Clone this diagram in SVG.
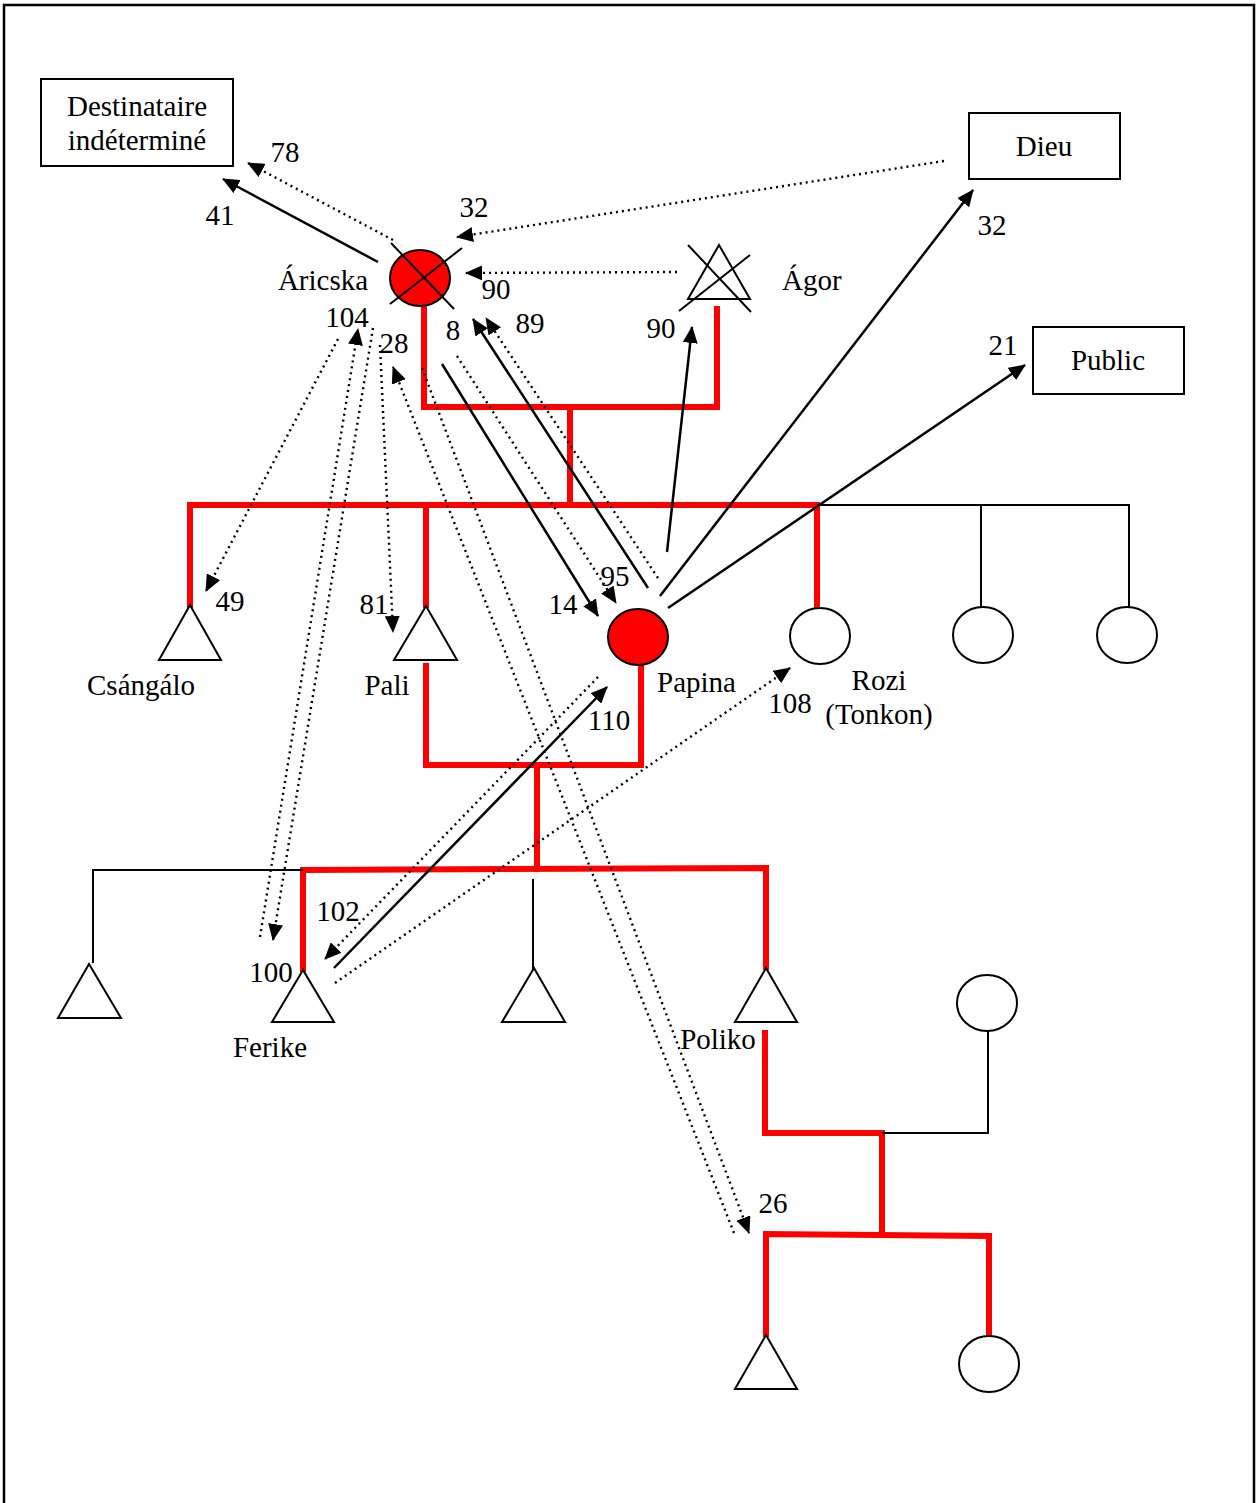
<svg xmlns="http://www.w3.org/2000/svg" width="1258" height="1503" viewBox="0 0 1258 1503">
  <style>
    text { font-family: "Liberation Serif", "Times New Roman", serif; font-size: 29px; fill: #000; }
    .mid { text-anchor: middle; }
    .kin { fill: none; stroke: #ff0000; stroke-width: 6; stroke-linecap: square; }
    .thin { fill: none; stroke: #000; stroke-width: 2; }
    .shape { fill: #fff; stroke: #000; stroke-width: 2; }
    .ego { fill: #ff0000; stroke: #000; stroke-width: 2; }
    .box { fill: #fff; stroke: #000; stroke-width: 2; }
    .solid { fill: none; stroke: #000; stroke-width: 2.5; marker-end: url(#head); }
    .dots { fill: none; stroke: #000; stroke-width: 2.4; stroke-dasharray: 2 4; marker-end: url(#head); }
  </style>
  <defs>
    <marker id="head" viewBox="0 0 17 15" refX="16" refY="7.5" markerWidth="17" markerHeight="15" markerUnits="userSpaceOnUse" orient="auto">
      <path d="M0,0 L17,7.5 L0,15 z" fill="#000"/>
    </marker>
  </defs>

  <rect width="1258" height="1503" fill="#fff"/>
  <!-- page frame, open at the bottom -->
  <path d="M4,1503 V5 H1254 V1503" fill="none" stroke="#000" stroke-width="2.5"/>

  <!-- kinship lines -->
  <g id="kinship">
    <path class="kin" d="M424,306 V407 H717 V309"/>
    <path class="kin" d="M570,407 V505"/>
    <path class="kin" d="M190,605 V505 H817 V606"/>
    <path class="kin" d="M426,505 V605"/>
    <path class="thin" d="M817,505 H1129 V607 M981,505 V607"/>
    <path class="kin" d="M426,666 V765 H641 V665"/>
    <path class="kin" d="M537,765 V869"/>
    <path class="kin" d="M303,969 V870 L766,868 V967"/>
    <path class="thin" d="M303,870 H93 V963"/>
    <path class="thin" d="M533,879 V981"/>
    <path class="kin" d="M765,1033 V1133 H882 V1235"/>
    <path class="thin" d="M882,1133 H988 V1031"/>
    <path class="kin" d="M766,1334 V1234 L989,1236 V1335"/>
  </g>

  <!-- people -->
  <g id="aricska">
    <ellipse class="ego" cx="420" cy="278" rx="30" ry="28"/>
    <path class="thin" d="M391,243 L454,309 M462,248 L390,304"/>
    <text class="mid" x="323" y="290">Áricska</text>
  </g>
  <g id="agor">
    <path class="shape" d="M719,245 L688,299 H750 Z"/>
    <path class="thin" d="M688,245 L751,312 M750,255 L679,311"/>
    <text x="782" y="290">Ágor</text>
  </g>
  <g id="csangalo">
    <path class="shape" d="M190,605 L159,660 H221 Z"/>
    <text class="mid" x="141" y="695">Csángálo</text>
  </g>
  <g id="pali">
    <path class="shape" d="M426,606 L394,660 H457 Z"/>
    <text class="mid" x="387" y="695">Pali</text>
  </g>
  <g id="papina">
    <ellipse class="ego" cx="638" cy="637" rx="30" ry="28"/>
    <text x="657" y="692">Papina</text>
  </g>
  <g id="rozi">
    <ellipse class="shape" cx="820" cy="636" rx="30" ry="28"/>
    <text class="mid" x="879" y="690">Rozi</text>
    <text class="mid" x="879" y="724">(Tonkon)</text>
  </g>
  <g id="sister2"><ellipse class="shape" cx="983" cy="635" rx="30" ry="28"/></g>
  <g id="sister3"><ellipse class="shape" cx="1127" cy="635" rx="30" ry="28"/></g>
  <g id="cousin"><path class="shape" d="M89,964 L58,1018 H121 Z"/></g>
  <g id="ferike">
    <path class="shape" d="M303,970 L272,1022 H334 Z"/>
    <text class="mid" x="270" y="1057">Ferike</text>
  </g>
  <g id="brother"><path class="shape" d="M534,968 L502,1022 H565 Z"/></g>
  <g id="poliko">
    <path class="shape" d="M766,968 L735,1022 H797 Z"/>
    <text class="mid" x="718" y="1049">Poliko</text>
  </g>
  <g id="poliko-wife"><ellipse class="shape" cx="987" cy="1003" rx="30" ry="28"/></g>
  <g id="grandson"><path class="shape" d="M766,1335 L735,1389 H797 Z"/></g>
  <g id="granddaughter"><ellipse class="shape" cx="989" cy="1364" rx="30" ry="28"/></g>

  <!-- addressees -->
  <g id="destinataire">
    <rect class="box" x="41" y="79" width="192" height="87"/>
    <text class="mid" x="137" y="116">Destinataire</text>
    <text class="mid" x="137" y="150">indéterminé</text>
  </g>
  <g id="dieu">
    <rect class="box" x="969" y="113" width="151" height="66"/>
    <text class="mid" x="1044" y="156">Dieu</text>
  </g>
  <g id="public">
    <rect class="box" x="1033" y="327" width="151" height="67"/>
    <text class="mid" x="1108" y="370">Public</text>
  </g>

  <!-- speech acts -->
  <g id="connectors">
    <path class="solid" d="M378,262 L223,179"/>
    <path class="dots" d="M393,240 L248,163"/>
    <path class="dots" d="M944,161 L457,237"/>
    <path class="dots" d="M677,272 L466,273"/>
    <path class="solid" d="M442,364 L598,616"/>
    <path class="solid" d="M648,588 L473,319"/>
    <path class="dots" d="M658,578 L486,318"/>
    <path class="dots" d="M457,356 L616,603"/>
    <path class="solid" d="M667,552 L692,327"/>
    <path class="solid" d="M660,596 L973,190"/>
    <path class="solid" d="M668,608 L1025,365"/>
    <path class="dots" d="M338,339 L206,591"/>
    <path class="dots" d="M260,937 L358,329"/>
    <path class="dots" d="M373,328 L273,940"/>
    <path class="dots" d="M380,345 L393,632"/>
    <path class="dots" d="M734,1233 L393,367"/>
    <path class="dots" d="M422,368 L749,1233"/>
    <path class="solid" d="M334,968 L607,687"/>
    <path class="dots" d="M598,677 L325,959"/>
    <path class="dots" d="M335,983 L790,668"/>
  </g>

  <!-- act numbers -->
  <g id="numbers">
    <text class="mid" x="285" y="162">78</text>
    <text class="mid" x="220" y="225">41</text>
    <text class="mid" x="474" y="217">32</text>
    <text class="mid" x="496" y="299">90</text>
    <text class="mid" x="453" y="340">8</text>
    <text class="mid" x="530" y="333">89</text>
    <text class="mid" x="347" y="327">104</text>
    <text class="mid" x="394" y="353">28</text>
    <text class="mid" x="661" y="338">90</text>
    <text class="mid" x="992" y="235">32</text>
    <text class="mid" x="1003" y="355">21</text>
    <text class="mid" x="230" y="611">49</text>
    <text class="mid" x="374" y="614">81</text>
    <text class="mid" x="563" y="614">14</text>
    <text class="mid" x="615" y="586">95</text>
    <text class="mid" x="790" y="713">108</text>
    <text class="mid" x="609" y="730">110</text>
    <text class="mid" x="338" y="921">102</text>
    <text class="mid" x="271" y="982">100</text>
    <text class="mid" x="773" y="1213">26</text>
  </g>
</svg>
